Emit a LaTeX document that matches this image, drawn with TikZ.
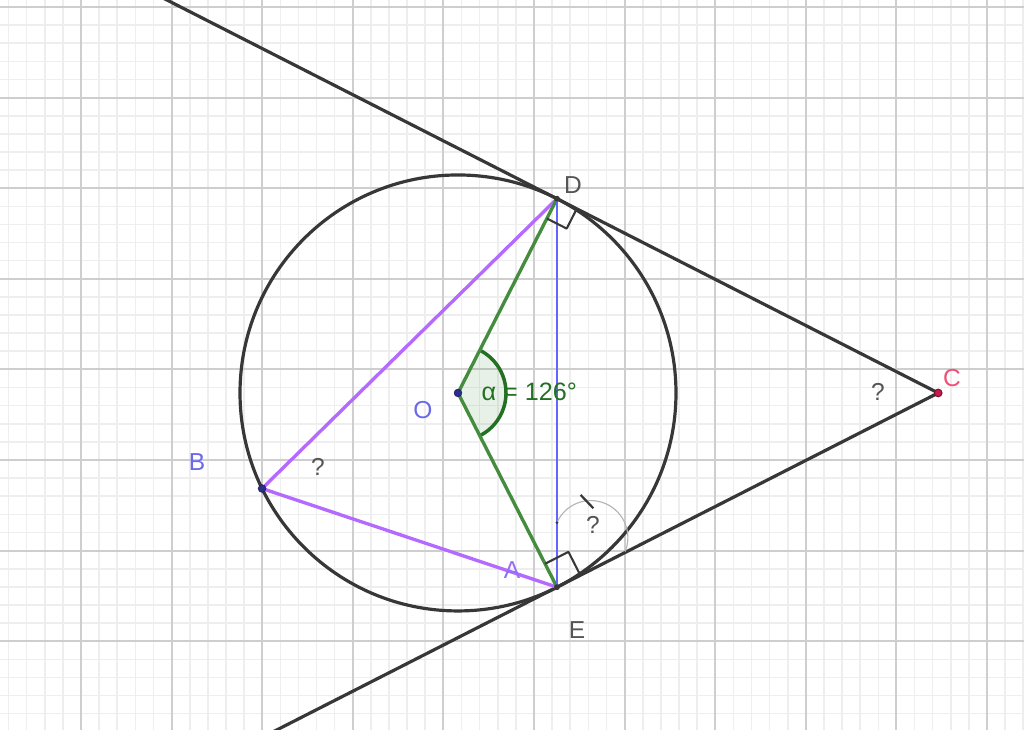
\documentclass[tikz,border=0pt]{standalone}
\usepackage{fontspec}
\setmainfont{Liberation Sans}
\usetikzlibrary{calc}
\definecolor{gmajor}{RGB}{206,206,206}
\definecolor{gminor}{RGB}{238,238,238}
\definecolor{dk}{RGB}{55,55,55}
\definecolor{purp}{RGB}{180,105,255}
\definecolor{grn}{RGB}{68,140,62}
\definecolor{grndk}{RGB}{35,112,35}
\definecolor{bluel}{RGB}{100,100,255}
\definecolor{lblue}{RGB}{105,105,235}
\definecolor{lpink}{RGB}{240,80,120}
\definecolor{lpurp}{RGB}{150,110,245}
\definecolor{lgray}{RGB}{85,85,85}
\definecolor{arcg}{RGB}{180,180,180}
\definecolor{ptblue}{RGB}{45,45,140}
\definecolor{ptred}{RGB}{200,25,75}
\begin{document}
\begin{tikzpicture}[
  lbl/.style={font=\fontsize{7.7}{8.5}\selectfont, inner sep=0pt},
  curve/.style={dk, line width=1pt},
  chordp/.style={purp, line width=1.05pt},
  radg/.style={grn, line width=1.05pt},
  rmark/.style={dk, line width=0.65pt, line join=round},
  ptdot/.style={circle, inner sep=0pt, minimum size=2.4mm},
]
\useasboundingbox (0.106,0.031) rectangle (11.408,8.077);
\clip (0.106,0.031) rectangle (11.408,8.077);
\fill[white] (0.106,0.031) rectangle (11.408,8.077);
\draw[gminor, line width=0.5pt, step=0.2] (0,0) grid (12,9);
\draw[gmajor, line width=0.65pt, step=1] (0,0) grid (12,9);

% geometry
\coordinate (O) at (5.161,3.740);
\coordinate (D) at ($(O)+(63:2.406)$);
\coordinate (E) at ($(O)+(-63:2.406)$);
\coordinate (C) at ($(O)+(5.300,0)$);
\coordinate (B) at ($(O)+(206:2.406)$);
\coordinate (Dfar) at ($(C)!2.4!(D)$);
\coordinate (Efar) at ($(C)!2.4!(E)$);

% angle sector at O
\fill[grn, opacity=0.12] (O) -- ($(O)+(-63:0.53)$) arc[start angle=-63, end angle=63, radius=0.53] -- cycle;
\draw[grndk, line width=1.1pt] ($(O)+(-63:0.53)$) arc[start angle=-63, end angle=63, radius=0.53];

% circle and tangents
\draw[curve] (O) circle[radius=2.406];
\draw[curve] (C) -- (Dfar);
\draw[curve] (C) -- (Efar);

% chords and radii
\draw[chordp] (B) -- (D);
\draw[chordp] (B) -- (E);
\draw[radg] (O) -- (D);
\draw[radg] (O) -- (E);
\draw[bluel, line width=0.4pt] (D) -- (E);

% right angle marks
\draw[rmark] ($(D)+(243:0.245)$) -- ($(D)+(243:0.245)+(-27:0.245)$) -- ($(D)+(-27:0.245)$);
\draw[rmark] ($(E)+(117:0.29)$) -- ($(E)+(117:0.29)+(27:0.29)$) -- ($(E)+(27:0.29)$);

% angle arc with ? near E
\coordinate (P) at (6.253,2.309);
\coordinate (Q) at (7.001,1.977);
\draw[arcg, line width=0.35pt] (P) arc[start angle=156.1, end angle=-23.9, radius=0.409];
\draw[dk, line width=0.7pt] (6.515,2.614) -- (6.655,2.467);
\fill[dk] (P) circle[radius=0.016];
\fill[dk] (Q) circle[radius=0.016];

% points
\node[ptdot, minimum size=0.085cm, fill=ptblue, draw=ptblue!70!black, line width=0.2pt] (pO) at (O) {};
\node[ptdot, minimum size=0.085cm, fill=ptblue, draw=ptblue!70!black, line width=0.2pt] (pB) at (B) {};
\node[ptdot, minimum size=0.085cm, fill=ptred, draw=ptred!60!black, line width=0.3pt] (pC) at (C) {};
\node[ptdot, minimum size=0.065cm, fill=dk] (pD) at (D) {};
\node[ptdot, minimum size=0.065cm, fill=dk] (pE) at (E) {};

% labels
\node[lbl, text=lgray] (lD) at (6.430,6.035) {D};
\node[lbl, text=lgray] (lE) at (6.475,1.124) {E};
\node[lbl, text=lpink] (lC) at (10.614,3.905) {C};
\node[lbl, text=lblue] (lO) at (4.775,3.552) {O};
\node[lbl, text=lblue] (lB) at (2.280,2.978) {B};
\node[lbl, text=lpurp] (lA) at (5.757,1.786) {A};
\node[lbl, text=lgray] (q1) at (3.616,2.923) {?};
\node[lbl, text=lgray] (q2) at (9.797,3.751) {?};
\node[lbl, text=lgray] (q3) at (6.651,2.282) {?};
\node[lbl, font=\fontsize{7.9}{9}\selectfont, text=grndk, anchor=west] (alpha) at (5.415,3.751) {α = 126°};
\end{tikzpicture}
\end{document}
